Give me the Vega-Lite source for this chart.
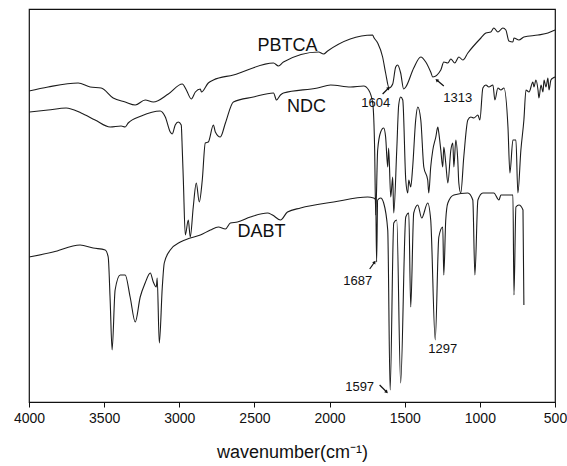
{
  "$schema": "https://vega.github.io/schema/vega-lite/v6.json",
  "width": 526,
  "height": 393,
  "autosize": {"type": "none"},
  "padding": {"left": 29, "top": 9, "right": 12, "bottom": 64},
  "background": "white",
  "config": {
    "font": "Liberation Sans",
    "view": {"stroke": "#111111", "strokeWidth": 1.2}
  },
  "datasets": {
    "spectra": [
      {"s": "PBTCA", "wn": 4000, "v": 311}, {"s": "PBTCA", "wn": 3873, "v": 315}, {"s": "PBTCA", "wn": 3673, "v": 319},
      {"s": "PBTCA", "wn": 3593, "v": 315}, {"s": "PBTCA", "wn": 3520, "v": 314}, {"s": "PBTCA", "wn": 3440, "v": 304},
      {"s": "PBTCA", "wn": 3360, "v": 300}, {"s": "PBTCA", "wn": 3293, "v": 297}, {"s": "PBTCA", "wn": 3227, "v": 302},
      {"s": "PBTCA", "wn": 3173, "v": 300}, {"s": "PBTCA", "wn": 3073, "v": 308}, {"s": "PBTCA", "wn": 2980, "v": 318},
      {"s": "PBTCA", "wn": 2953, "v": 312}, {"s": "PBTCA", "wn": 2920, "v": 303}, {"s": "PBTCA", "wn": 2893, "v": 310},
      {"s": "PBTCA", "wn": 2860, "v": 313}, {"s": "PBTCA", "wn": 2853, "v": 310}, {"s": "PBTCA", "wn": 2807, "v": 319},
      {"s": "PBTCA", "wn": 2773, "v": 322}, {"s": "PBTCA", "wn": 2640, "v": 327}, {"s": "PBTCA", "wn": 2373, "v": 339},
      {"s": "PBTCA", "wn": 2340, "v": 336}, {"s": "PBTCA", "wn": 2307, "v": 340}, {"s": "PBTCA", "wn": 2073, "v": 350},
      {"s": "PBTCA", "wn": 2040, "v": 348}, {"s": "PBTCA", "wn": 2013, "v": 351}, {"s": "PBTCA", "wn": 1713, "v": 367},
      {"s": "PBTCA", "wn": 1707, "v": 365}, {"s": "PBTCA", "wn": 1680, "v": 359}, {"s": "PBTCA", "wn": 1647, "v": 345},
      {"s": "PBTCA", "wn": 1627, "v": 329}, {"s": "PBTCA", "wn": 1604, "v": 314}, {"s": "PBTCA", "wn": 1580, "v": 318},
      {"s": "PBTCA", "wn": 1560, "v": 335}, {"s": "PBTCA", "wn": 1547, "v": 337}, {"s": "PBTCA", "wn": 1527, "v": 329},
      {"s": "PBTCA", "wn": 1507, "v": 313}, {"s": "PBTCA", "wn": 1493, "v": 315}, {"s": "PBTCA", "wn": 1440, "v": 334},
      {"s": "PBTCA", "wn": 1393, "v": 345}, {"s": "PBTCA", "wn": 1360, "v": 340}, {"s": "PBTCA", "wn": 1327, "v": 330},
      {"s": "PBTCA", "wn": 1313, "v": 325}, {"s": "PBTCA", "wn": 1260, "v": 332}, {"s": "PBTCA", "wn": 1240, "v": 340},
      {"s": "PBTCA", "wn": 1213, "v": 339}, {"s": "PBTCA", "wn": 1193, "v": 343}, {"s": "PBTCA", "wn": 1167, "v": 339},
      {"s": "PBTCA", "wn": 1140, "v": 345}, {"s": "PBTCA", "wn": 1113, "v": 342}, {"s": "PBTCA", "wn": 1080, "v": 349},
      {"s": "PBTCA", "wn": 993, "v": 364}, {"s": "PBTCA", "wn": 960, "v": 369}, {"s": "PBTCA", "wn": 927, "v": 370},
      {"s": "PBTCA", "wn": 907, "v": 374}, {"s": "PBTCA", "wn": 880, "v": 370}, {"s": "PBTCA", "wn": 847, "v": 374},
      {"s": "PBTCA", "wn": 827, "v": 372}, {"s": "PBTCA", "wn": 807, "v": 361}, {"s": "PBTCA", "wn": 780, "v": 360},
      {"s": "PBTCA", "wn": 773, "v": 364}, {"s": "PBTCA", "wn": 740, "v": 362}, {"s": "PBTCA", "wn": 707, "v": 365},
      {"s": "PBTCA", "wn": 613, "v": 367}, {"s": "PBTCA", "wn": 547, "v": 369}, {"s": "PBTCA", "wn": 500, "v": 372},

      {"s": "NDC", "wn": 4000, "v": 290}, {"s": "NDC", "wn": 3873, "v": 292}, {"s": "NDC", "wn": 3753, "v": 294},
      {"s": "NDC", "wn": 3653, "v": 289}, {"s": "NDC", "wn": 3560, "v": 282}, {"s": "NDC", "wn": 3460, "v": 275},
      {"s": "NDC", "wn": 3387, "v": 276}, {"s": "NDC", "wn": 3360, "v": 275}, {"s": "NDC", "wn": 3340, "v": 279},
      {"s": "NDC", "wn": 3253, "v": 286}, {"s": "NDC", "wn": 3127, "v": 291}, {"s": "NDC", "wn": 3093, "v": 285},
      {"s": "NDC", "wn": 3060, "v": 270}, {"s": "NDC", "wn": 3047, "v": 268}, {"s": "NDC", "wn": 3027, "v": 277},
      {"s": "NDC", "wn": 3007, "v": 280}, {"s": "NDC", "wn": 2987, "v": 277}, {"s": "NDC", "wn": 2980, "v": 252},
      {"s": "NDC", "wn": 2973, "v": 222}, {"s": "NDC", "wn": 2960, "v": 167}, {"s": "NDC", "wn": 2940, "v": 182},
      {"s": "NDC", "wn": 2927, "v": 165}, {"s": "NDC", "wn": 2907, "v": 195}, {"s": "NDC", "wn": 2887, "v": 219},
      {"s": "NDC", "wn": 2867, "v": 200}, {"s": "NDC", "wn": 2847, "v": 222}, {"s": "NDC", "wn": 2827, "v": 259},
      {"s": "NDC", "wn": 2807, "v": 260}, {"s": "NDC", "wn": 2773, "v": 277}, {"s": "NDC", "wn": 2760, "v": 270},
      {"s": "NDC", "wn": 2727, "v": 265}, {"s": "NDC", "wn": 2693, "v": 279}, {"s": "NDC", "wn": 2640, "v": 300},
      {"s": "NDC", "wn": 2507, "v": 305}, {"s": "NDC", "wn": 2373, "v": 309}, {"s": "NDC", "wn": 2353, "v": 302},
      {"s": "NDC", "wn": 2327, "v": 307}, {"s": "NDC", "wn": 2307, "v": 309}, {"s": "NDC", "wn": 2080, "v": 314},
      {"s": "NDC", "wn": 1993, "v": 317}, {"s": "NDC", "wn": 1860, "v": 315}, {"s": "NDC", "wn": 1773, "v": 316},
      {"s": "NDC", "wn": 1740, "v": 312}, {"s": "NDC", "wn": 1713, "v": 299}, {"s": "NDC", "wn": 1700, "v": 252},
      {"s": "NDC", "wn": 1693, "v": 187}, {"s": "NDC", "wn": 1680, "v": 252}, {"s": "NDC", "wn": 1660, "v": 270},
      {"s": "NDC", "wn": 1640, "v": 274}, {"s": "NDC", "wn": 1627, "v": 265}, {"s": "NDC", "wn": 1613, "v": 235},
      {"s": "NDC", "wn": 1607, "v": 254}, {"s": "NDC", "wn": 1593, "v": 205}, {"s": "NDC", "wn": 1580, "v": 225},
      {"s": "NDC", "wn": 1573, "v": 189}, {"s": "NDC", "wn": 1553, "v": 252}, {"s": "NDC", "wn": 1540, "v": 297},
      {"s": "NDC", "wn": 1527, "v": 305}, {"s": "NDC", "wn": 1513, "v": 302}, {"s": "NDC", "wn": 1493, "v": 222},
      {"s": "NDC", "wn": 1480, "v": 209}, {"s": "NDC", "wn": 1473, "v": 222}, {"s": "NDC", "wn": 1460, "v": 215},
      {"s": "NDC", "wn": 1447, "v": 235}, {"s": "NDC", "wn": 1427, "v": 282}, {"s": "NDC", "wn": 1413, "v": 295},
      {"s": "NDC", "wn": 1393, "v": 282}, {"s": "NDC", "wn": 1373, "v": 235}, {"s": "NDC", "wn": 1347, "v": 222},
      {"s": "NDC", "wn": 1340, "v": 209}, {"s": "NDC", "wn": 1327, "v": 235}, {"s": "NDC", "wn": 1313, "v": 252},
      {"s": "NDC", "wn": 1293, "v": 265}, {"s": "NDC", "wn": 1280, "v": 275}, {"s": "NDC", "wn": 1273, "v": 269},
      {"s": "NDC", "wn": 1260, "v": 252}, {"s": "NDC", "wn": 1247, "v": 235}, {"s": "NDC", "wn": 1240, "v": 255},
      {"s": "NDC", "wn": 1227, "v": 239}, {"s": "NDC", "wn": 1213, "v": 219}, {"s": "NDC", "wn": 1193, "v": 252},
      {"s": "NDC", "wn": 1180, "v": 259}, {"s": "NDC", "wn": 1173, "v": 235}, {"s": "NDC", "wn": 1160, "v": 262},
      {"s": "NDC", "wn": 1147, "v": 242}, {"s": "NDC", "wn": 1140, "v": 219}, {"s": "NDC", "wn": 1127, "v": 209},
      {"s": "NDC", "wn": 1107, "v": 245}, {"s": "NDC", "wn": 1080, "v": 282}, {"s": "NDC", "wn": 1060, "v": 285},
      {"s": "NDC", "wn": 1040, "v": 284}, {"s": "NDC", "wn": 1013, "v": 287}, {"s": "NDC", "wn": 1000, "v": 282},
      {"s": "NDC", "wn": 980, "v": 314}, {"s": "NDC", "wn": 960, "v": 317}, {"s": "NDC", "wn": 940, "v": 315},
      {"s": "NDC", "wn": 913, "v": 317}, {"s": "NDC", "wn": 900, "v": 302}, {"s": "NDC", "wn": 880, "v": 314},
      {"s": "NDC", "wn": 860, "v": 312}, {"s": "NDC", "wn": 840, "v": 314}, {"s": "NDC", "wn": 813, "v": 275},
      {"s": "NDC", "wn": 800, "v": 229}, {"s": "NDC", "wn": 780, "v": 262}, {"s": "NDC", "wn": 760, "v": 262},
      {"s": "NDC", "wn": 747, "v": 209}, {"s": "NDC", "wn": 727, "v": 252}, {"s": "NDC", "wn": 707, "v": 282},
      {"s": "NDC", "wn": 693, "v": 312}, {"s": "NDC", "wn": 673, "v": 310}, {"s": "NDC", "wn": 647, "v": 320},
      {"s": "NDC", "wn": 640, "v": 315}, {"s": "NDC", "wn": 627, "v": 322}, {"s": "NDC", "wn": 613, "v": 312},
      {"s": "NDC", "wn": 607, "v": 304}, {"s": "NDC", "wn": 593, "v": 317}, {"s": "NDC", "wn": 580, "v": 310},
      {"s": "NDC", "wn": 573, "v": 322}, {"s": "NDC", "wn": 560, "v": 315}, {"s": "NDC", "wn": 547, "v": 324},
      {"s": "NDC", "wn": 540, "v": 312}, {"s": "NDC", "wn": 527, "v": 322}, {"s": "NDC", "wn": 513, "v": 324},
      {"s": "NDC", "wn": 500, "v": 325},

      {"s": "DABT", "wn": 4000, "v": 145}, {"s": "DABT", "wn": 3840, "v": 150}, {"s": "DABT", "wn": 3660, "v": 157},
      {"s": "DABT", "wn": 3573, "v": 154}, {"s": "DABT", "wn": 3493, "v": 152}, {"s": "DABT", "wn": 3473, "v": 145},
      {"s": "DABT", "wn": 3460, "v": 102}, {"s": "DABT", "wn": 3447, "v": 52}, {"s": "DABT", "wn": 3427, "v": 112},
      {"s": "DABT", "wn": 3393, "v": 127}, {"s": "DABT", "wn": 3360, "v": 127}, {"s": "DABT", "wn": 3327, "v": 105},
      {"s": "DABT", "wn": 3293, "v": 80}, {"s": "DABT", "wn": 3260, "v": 105}, {"s": "DABT", "wn": 3227, "v": 119},
      {"s": "DABT", "wn": 3193, "v": 129}, {"s": "DABT", "wn": 3173, "v": 120}, {"s": "DABT", "wn": 3153, "v": 115},
      {"s": "DABT", "wn": 3147, "v": 124}, {"s": "DABT", "wn": 3133, "v": 59}, {"s": "DABT", "wn": 3113, "v": 115},
      {"s": "DABT", "wn": 3100, "v": 139}, {"s": "DABT", "wn": 3060, "v": 152}, {"s": "DABT", "wn": 2993, "v": 160},
      {"s": "DABT", "wn": 2927, "v": 164}, {"s": "DABT", "wn": 2860, "v": 167}, {"s": "DABT", "wn": 2793, "v": 172},
      {"s": "DABT", "wn": 2740, "v": 175}, {"s": "DABT", "wn": 2693, "v": 173}, {"s": "DABT", "wn": 2660, "v": 179},
      {"s": "DABT", "wn": 2613, "v": 180}, {"s": "DABT", "wn": 2527, "v": 185}, {"s": "DABT", "wn": 2413, "v": 189},
      {"s": "DABT", "wn": 2380, "v": 187}, {"s": "DABT", "wn": 2327, "v": 182}, {"s": "DABT", "wn": 2280, "v": 190},
      {"s": "DABT", "wn": 2193, "v": 194}, {"s": "DABT", "wn": 1973, "v": 200}, {"s": "DABT", "wn": 1747, "v": 205},
      {"s": "DABT", "wn": 1707, "v": 204}, {"s": "DABT", "wn": 1693, "v": 202}, {"s": "DABT", "wn": 1687, "v": 140},
      {"s": "DABT", "wn": 1680, "v": 202}, {"s": "DABT", "wn": 1660, "v": 204}, {"s": "DABT", "wn": 1640, "v": 199},
      {"s": "DABT", "wn": 1613, "v": 172}, {"s": "DABT", "wn": 1597, "v": 12}, {"s": "DABT", "wn": 1573, "v": 179},
      {"s": "DABT", "wn": 1553, "v": 182}, {"s": "DABT", "wn": 1527, "v": 19}, {"s": "DABT", "wn": 1493, "v": 185},
      {"s": "DABT", "wn": 1473, "v": 189}, {"s": "DABT", "wn": 1460, "v": 95}, {"s": "DABT", "wn": 1440, "v": 189},
      {"s": "DABT", "wn": 1413, "v": 197}, {"s": "DABT", "wn": 1387, "v": 184}, {"s": "DABT", "wn": 1347, "v": 199},
      {"s": "DABT", "wn": 1327, "v": 182}, {"s": "DABT", "wn": 1297, "v": 62}, {"s": "DABT", "wn": 1273, "v": 165},
      {"s": "DABT", "wn": 1247, "v": 175}, {"s": "DABT", "wn": 1240, "v": 127}, {"s": "DABT", "wn": 1227, "v": 182},
      {"s": "DABT", "wn": 1213, "v": 199}, {"s": "DABT", "wn": 1173, "v": 207}, {"s": "DABT", "wn": 1080, "v": 209},
      {"s": "DABT", "wn": 1047, "v": 202}, {"s": "DABT", "wn": 1033, "v": 127}, {"s": "DABT", "wn": 1013, "v": 202},
      {"s": "DABT", "wn": 980, "v": 209}, {"s": "DABT", "wn": 907, "v": 209}, {"s": "DABT", "wn": 873, "v": 202},
      {"s": "DABT", "wn": 860, "v": 207}, {"s": "DABT", "wn": 780, "v": 207}, {"s": "DABT", "wn": 773, "v": 107},
      {"s": "DABT", "wn": 760, "v": 195}, {"s": "DABT", "wn": 740, "v": 197}, {"s": "DABT", "wn": 713, "v": 192},
      {"s": "DABT", "wn": 707, "v": 97}
    ],
    "labels": [
      {"kind": "sample", "text": "PBTCA", "wn": 2280, "v": 356},
      {"kind": "sample", "text": "NDC", "wn": 2153, "v": 295},
      {"kind": "sample", "text": "DABT", "wn": 2453, "v": 170},
      {"kind": "peak", "text": "1604", "wn": 1693, "v": 299},
      {"kind": "peak", "text": "1313", "wn": 1147, "v": 304},
      {"kind": "peak", "text": "1687", "wn": 1813, "v": 121},
      {"kind": "peak", "text": "1297", "wn": 1247, "v": 53},
      {"kind": "peak", "text": "1597", "wn": 1800, "v": 15}
    ],
    "arrows": [
      {"peak": "1604", "wn0": 1647, "v0": 308, "wn": 1607, "v": 314},
      {"peak": "1313", "wn0": 1240, "v0": 316, "wn": 1287, "v": 322},
      {"peak": "1687", "wn0": 1733, "v0": 133, "wn": 1700, "v": 140},
      {"peak": "1597", "wn0": 1667, "v0": 17, "wn": 1620, "v": 10}
    ]
  },
  "layer": [
    {
      "data": {"name": "spectra"},
      "mark": {"type": "line", "stroke": "#1c1c1c", "strokeWidth": 1.1, "interpolate": "monotone"},
      "encoding": {
        "x": {
          "field": "wn",
          "type": "quantitative",
          "title": "wavenumber(cm⁻¹)",
          "scale": {"domain": [500, 4000], "reverse": true, "nice": false, "zero": false},
          "axis": {
            "values": [4000, 3750, 3500, 3250, 3000, 2750, 2500, 2250, 2000, 1750, 1500, 1250, 1000, 750, 500],
            "labelExpr": "datum.value % 500 === 0 ? format(datum.value, 'd') : ''",
            "grid": false,
            "domain": false,
            "ticks": true,
            "tickColor": "#111111",
            "tickSize": {"condition": {"test": "datum.value % 500 === 0", "value": 5}, "value": 3},
            "labelFont": "Liberation Sans",
            "labelFontSize": 14,
            "labelColor": "#111111",
            "labelPadding": 4,
            "labelFlush": false,
            "titleFont": "Liberation Sans",
            "titleFontSize": 18,
            "titleFontWeight": "normal",
            "titleColor": "#111111",
            "titlePadding": 18
          }
        },
        "y": {
          "field": "v",
          "type": "quantitative",
          "scale": {"domain": [0, 393], "nice": false, "zero": false},
          "axis": null
        },
        "detail": {"field": "s", "type": "nominal"}
      }
    },
    {
      "data": {"name": "labels"},
      "transform": [{"filter": "datum.kind === 'sample'"}],
      "mark": {"type": "text", "font": "Liberation Sans", "fontSize": 18, "color": "#111111", "align": "center", "baseline": "middle"},
      "encoding": {
        "x": {"field": "wn", "type": "quantitative", "title": "wavenumber(cm⁻¹)"},
        "y": {"field": "v", "type": "quantitative"},
        "text": {"field": "text"}
      }
    },
    {
      "data": {"name": "labels"},
      "transform": [{"filter": "datum.kind === 'peak'"}],
      "mark": {"type": "text", "font": "Liberation Sans", "fontSize": 13, "color": "#111111", "align": "center", "baseline": "middle"},
      "encoding": {
        "x": {"field": "wn", "type": "quantitative", "title": "wavenumber(cm⁻¹)"},
        "y": {"field": "v", "type": "quantitative"},
        "text": {"field": "text"}
      }
    },
    {
      "data": {"name": "arrows"},
      "mark": {"type": "rule", "stroke": "#111111", "strokeWidth": 1.2},
      "encoding": {
        "x": {"field": "wn0", "type": "quantitative", "title": "wavenumber(cm⁻¹)"},
        "y": {"field": "v0", "type": "quantitative"},
        "x2": {"field": "wn"},
        "y2": {"field": "v"}
      }
    },
    {
      "data": {"name": "arrows"},
      "transform": [
        {"calculate": "(atan2((datum.wn0 - datum.wn) * 0.15, (datum.v - datum.v0)) * 180 / PI + 360) % 360", "as": "heading"}
      ],
      "mark": {"type": "point", "shape": "triangle-up", "filled": true, "color": "#111111", "size": 14, "opacity": 1},
      "encoding": {
        "x": {"field": "wn", "type": "quantitative", "title": "wavenumber(cm⁻¹)"},
        "y": {"field": "v", "type": "quantitative"},
        "angle": {"field": "heading", "type": "quantitative", "scale": null}
      }
    }
  ]
}
